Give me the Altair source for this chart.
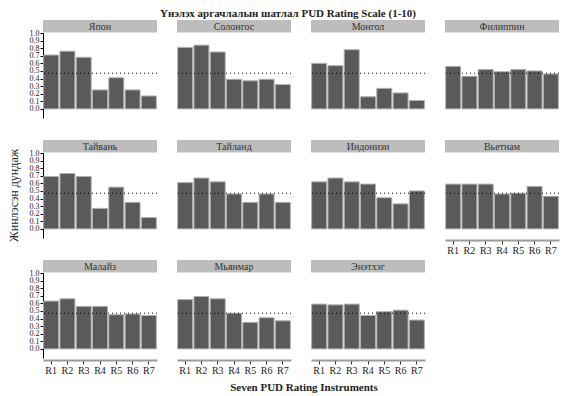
import altair as alt
import pandas as pd

instruments = ["R1", "R2", "R3", "R4", "R5", "R6", "R7"]
countries = ["Япон", "Солонгос", "Монгол", "Филиппин",
             "Тайвань", "Тайланд", "Индонизи", "Вьетнам",
             "Малайз", "Мьянмар", "Энэтхэг"]
values = [
    [0.71, 0.76, 0.68, 0.25, 0.41, 0.25, 0.17],
    [0.81, 0.84, 0.75, 0.39, 0.37, 0.39, 0.32],
    [0.60, 0.57, 0.78, 0.16, 0.27, 0.21, 0.11],
    [0.56, 0.43, 0.52, 0.49, 0.52, 0.50, 0.46],
    [0.69, 0.73, 0.69, 0.27, 0.55, 0.35, 0.15],
    [0.61, 0.67, 0.62, 0.46, 0.35, 0.46, 0.35],
    [0.62, 0.67, 0.62, 0.59, 0.41, 0.33, 0.50],
    [0.59, 0.59, 0.59, 0.46, 0.47, 0.56, 0.43],
    [0.63, 0.66, 0.56, 0.56, 0.45, 0.46, 0.44],
    [0.65, 0.69, 0.66, 0.47, 0.35, 0.41, 0.37],
    [0.59, 0.58, 0.59, 0.44, 0.49, 0.51, 0.38],
]
ref_line = 0.47
y_ticks = [0.0, 0.1, 0.2, 0.3, 0.4, 0.5, 0.6, 0.7, 0.8, 0.9, 1.0]
title_text = "Үнэлэх аргачлалын шатлал PUD Rating Scale (1-10)"
x_title = "Seven PUD Rating Instruments"
y_title = "Жинлэсэн дундаж"

FONT = "Liberation Serif"
W, H = 114, 85
show_x_axis = {"Вьетнам", "Малайз", "Мьянмар", "Энэтхэг"}
show_y_axis = {"Япон", "Тайвань", "Малайз"}


def panel(name, vals):
    df = pd.DataFrame({"inst": instruments, "v": vals})
    if name in show_x_axis:
        xaxis = alt.Axis(labelAngle=0, domainColor="#9a9a9a", domainWidth=2,
                         tickColor="#333333", tickSize=4, tickWidth=1, offset=2,
                         labelFontSize=10, labelFont=FONT, labelColor="#222222",
                         labelPadding=1, title=None)
    else:
        xaxis = None
    if name in show_y_axis:
        yaxis = alt.Axis(values=y_ticks, format=".1f", labelOverlap=False,
                         tickSize=3, domainColor="black", tickColor="black",
                         labelFontSize=8, labelFont=FONT, labelColor="#222222",
                         labelPadding=1, title=None, grid=False)
    else:
        yaxis = None
    yscale = alt.Scale(domain=[-0.12, 1.0], nice=False, zero=False)
    bars = alt.Chart(df).mark_bar(color="#5a5a5a", stroke="#b0b0b0", strokeWidth=1).encode(
        x=alt.X("inst:N", sort=instruments,
                scale=alt.Scale(paddingInner=0.08, paddingOuter=0.04),
                axis=xaxis, title=None),
        y=alt.Y("v:Q", scale=yscale, axis=yaxis, title=None),
        y2=alt.value(H),
    )
    one = pd.DataFrame({"name": [name], "v": [ref_line]})
    rule = alt.Chart(one).mark_rule(color="black", strokeDash=[1, 3], strokeWidth=1).encode(
        y=alt.Y("v:Q", scale=yscale, axis=yaxis, title=None)
    )
    head = alt.Chart(one).mark_rect(color="#bdbdbd").encode(
        x=alt.value(0), x2=alt.value(W), y=alt.value(-13), y2=alt.value(-0.5)
    )
    htext = alt.Chart(one).mark_text(font=FONT, fontSize=10, color="#333333",
                                     baseline="middle", align="center").encode(
        x=alt.value(W / 2), y=alt.value(-6.5), text="name:N"
    )
    layers = [bars, rule, head, htext]
    if name == "Солонгос":
        layers.append(alt.Chart(one).mark_text(
            font=FONT, fontSize=11, fontWeight="bold", color="#222222",
            baseline="top", align="center").encode(
            x=alt.value(111), y=alt.value(-25), text=alt.value(title_text)))
    if name == "Тайвань":
        layers.append(alt.Chart(one).mark_text(
            font=FONT, fontSize=12, color="#222222", angle=270,
            baseline="middle", align="center").encode(
            x=alt.value(-29), y=alt.value(H / 2), text=alt.value(y_title)))
    if name == "Мьянмар":
        layers.append(alt.Chart(one).mark_text(
            font=FONT, fontSize=11, fontWeight="bold", color="#222222",
            baseline="middle", align="center").encode(
            x=alt.value(127), y=alt.value(115), text=alt.value(x_title)))
    return alt.layer(*layers).properties(width=W, height=H)


panels = [panel(c, v) for c, v in zip(countries, values)]
chart = alt.concat(*panels, columns=4, spacing={"row": 35, "column": 20}).properties(
    bounds="flush", padding={"left": 0, "top": 0, "right": 0, "bottom": 0}
).configure_view(strokeWidth=0).configure_axis(grid=False)

chart.save("out.html", embed_options={"renderer": "svg", "actions": False})
